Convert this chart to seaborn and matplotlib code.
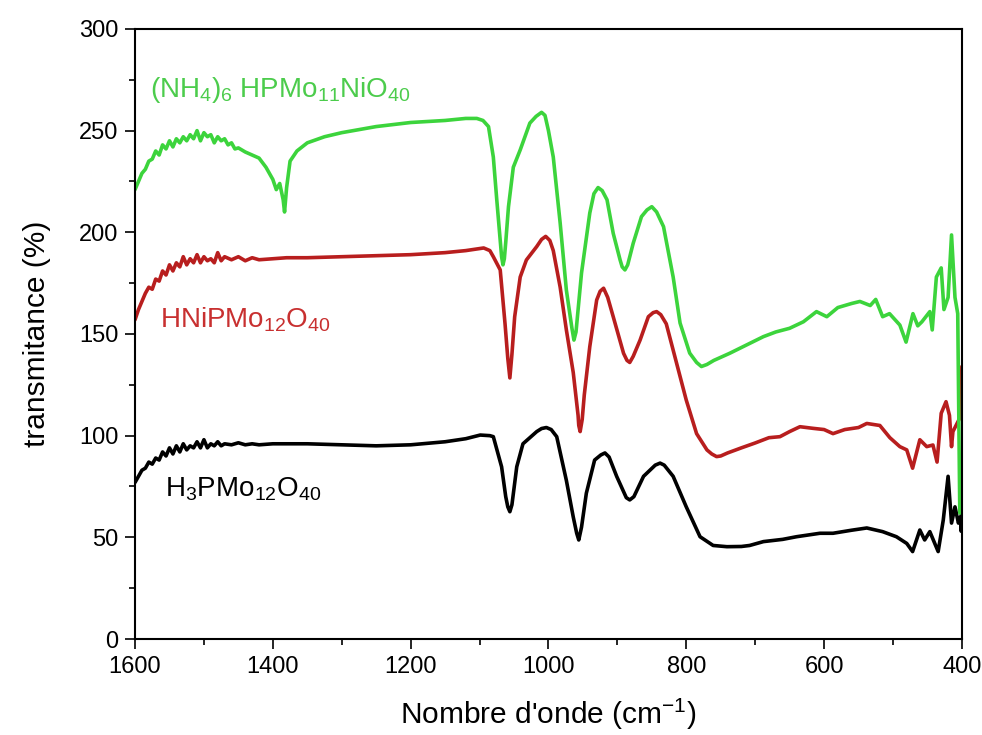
import pandas as pd
import matplotlib.pyplot as plt
import seaborn as sns
from matplotlib.ticker import MultipleLocator

# wavenumber (cm-1) / transmittance (%)
wn_green = [1600, 1595, 1590, 1585, 1580, 1575, 1570, 1565, 1560, 1555, 1550, 1545, 1540, 1535,
            1530, 1525, 1520, 1515, 1510, 1505, 1500, 1495, 1490, 1485, 1480, 1475, 1470, 1465,
            1460, 1455, 1450, 1440, 1430, 1420, 1410, 1400, 1395, 1390, 1385, 1383, 1380, 1375,
            1365, 1350, 1325, 1300, 1250, 1200, 1150, 1120, 1104, 1095, 1087, 1080, 1075, 1070,
            1068, 1066, 1064, 1062, 1058, 1051, 1041, 1027, 1018, 1010, 1005, 1000, 993, 983, 974,
            966, 963, 960, 952, 940, 934, 928, 922, 915, 906, 896, 893, 889, 885, 877, 865, 857,
            850, 843, 833, 819, 809, 795, 785, 778, 770, 760, 737, 710, 688, 670,
            650, 630, 611, 596, 580, 560, 548, 533, 525, 515, 505, 490, 481, 471, 464, 458, 446.5,
            443, 437, 430, 426, 420, 415, 410, 406, 403, 400]
tr_green = [221, 225, 229, 231, 235, 236, 240, 238, 243, 241, 245, 242, 246, 244,
            247, 245, 248, 246, 250, 245, 249, 247, 248, 244, 247, 245, 246, 243,
            244, 241, 241.5, 239.5, 238, 236.5, 232, 226, 221, 224, 216, 210, 222, 235,
            240, 244, 247, 249, 252, 254, 255, 256, 256, 255, 252, 237, 216, 196,
            188, 184, 187, 195, 212.6, 232, 240.5, 253.7, 257, 259, 257.5, 250, 237, 204.6, 171.6,
            153, 147, 151, 180, 209.5, 219, 222, 220.5, 216, 199.5, 186.4, 183, 181.5, 184, 194.6, 207.7, 211,
            212.6, 210, 202.8, 178, 155.4, 140.6, 136, 134, 135, 137, 140.5, 145, 148.7, 151,
            152.8, 156, 161, 158.5, 163, 165, 166, 164, 167, 158.5, 160, 154.4, 146, 160, 154, 156, 161,
            152, 178, 182.5, 162, 168, 198.7, 168, 160, 62, 62]

wn_red = [1600, 1595, 1590, 1585, 1580, 1575, 1570, 1565, 1560, 1555, 1550, 1545, 1540, 1535,
          1530, 1525, 1520, 1515, 1510, 1505, 1500, 1495, 1490, 1485, 1480, 1475, 1470, 1460,
          1450, 1440, 1430, 1420, 1400, 1380, 1350, 1300, 1250, 1200, 1150, 1120, 1100, 1094,
          1085, 1080, 1070, 1063, 1059, 1056, 1053, 1049, 1041, 1032, 1017, 1010, 1004, 998, 993,
          983, 974, 964, 957, 956, 954, 951, 948, 940, 930, 925, 920, 914, 906, 891, 886, 882, 877,
          867, 855, 848, 843, 837, 829, 814, 800, 785, 770, 763, 756, 750,
          740, 720, 700, 680, 664, 650, 635, 616, 600, 587, 570, 550, 538, 519, 504.5, 490, 480,
          471.5, 461, 451, 442, 436, 430, 423, 418, 415, 413, 410, 404, 401, 400]
tr_red = [157, 162, 166, 170, 173, 172, 177, 176, 181, 179, 184, 181, 185, 183,
          188, 184, 187, 185, 189, 185, 188, 186, 187, 185, 190, 186, 188, 186.5,
          188, 186, 187.5, 186.5, 187, 187.5, 187.5, 188, 188.5, 189, 190, 191, 192, 192.3,
          191, 188, 181.5, 155, 138, 128.4, 140, 158.5, 178, 186.4, 193, 196.5, 198, 196, 191,
          173, 152, 131, 110, 105, 102, 108, 120, 143.8, 166.7, 171, 172.5, 168, 158.5, 140.5, 137, 136, 139,
          147, 158.5, 160.5, 161, 159.5, 155, 135.6, 117.5, 101, 93, 91, 89.7, 90,
          91.5, 94, 96.4, 99, 99.5, 102, 104.4, 103.6, 103, 101, 103, 104, 106, 105, 99, 94.6, 93,
          84, 98, 94.6, 95.4, 87, 111, 116.7, 110, 94.6, 102, 104, 108, 109, 134]

wn_black = [1600, 1595, 1590, 1585, 1580, 1575, 1570, 1565, 1560, 1555, 1550, 1545, 1540, 1535,
            1530, 1525, 1520, 1515, 1510, 1505, 1500, 1495, 1490, 1485, 1480, 1475, 1470, 1460,
            1450, 1440, 1430, 1420, 1400, 1350, 1300, 1250, 1200, 1150, 1120, 1099, 1085, 1080,
            1068, 1062, 1059, 1056, 1053, 1050, 1046, 1037, 1017, 1010, 1003, 996, 988, 974, 964,
            959, 956, 952, 945, 933, 924, 918, 912, 901, 887, 882, 876, 862, 845, 838, 832, 819,
            800, 780, 761, 741, 720, 708, 688, 660, 640, 606, 587,
            560, 538, 515, 495, 480, 471.5, 461, 454, 446.5, 434.4, 427, 420, 415, 410, 405, 402,
            401, 400]
tr_black = [77, 80, 83, 84, 87, 86, 89, 88, 92, 90, 94, 91, 95, 92,
            96, 93, 95, 94, 97, 94, 98, 94, 96, 95, 97, 95, 96, 95.5,
            96.5, 95.5, 96, 95.5, 96, 96, 95.5, 95, 95.5, 97, 98.5, 100.3, 100, 99.5,
            84.7, 70, 65, 62.6, 66, 74, 84.7, 96, 102, 103.5, 104, 103, 99.5, 78, 60,
            52, 48.7, 55, 71.7, 88, 90.5, 91.5, 89.5, 80, 69.5, 68.4, 70, 80, 85.5, 86.5, 85.5, 80,
            65, 50.3, 46, 45.4, 45.5, 46, 47.9, 49, 50.3, 52, 52,
            53.5, 54.6, 52.8, 50.3, 47, 43, 53.6, 48.7, 52.8, 43, 58.5, 80, 57, 65, 57, 60,
            53, 77]

sns.set_style('white')
plt.rcParams['font.family'] = ['Liberation Sans', 'DejaVu Sans']
plt.rcParams['mathtext.fontset'] = 'custom'
plt.rcParams['mathtext.rm'] = 'Liberation Sans'
plt.rcParams['mathtext.it'] = 'Liberation Sans:italic'
plt.rcParams['mathtext.bf'] = 'Liberation Sans:bold'
for key in ['text.color', 'axes.labelcolor', 'xtick.color', 'ytick.color']:
    plt.rcParams[key] = 'black'

fig = plt.figure(figsize=(9.82, 7.35), dpi=100)
ax = fig.add_axes([0.1375, 0.1306, 0.842, 0.83])

curves = [
    (wn_black, tr_black, 'black'),
    (wn_red, tr_red, '#b81e1e'),
    (wn_green, tr_green, '#3cd43c'),
]
for wn, tr, col in curves:
    df = pd.DataFrame({'wn': wn, 'tr': tr})
    sns.lineplot(data=df, x='wn', y='tr', ax=ax, color=col, lw=2.6,
                 sort=False, estimator=None)

ax.set_xlim(1600, 400)
ax.set_ylim(0, 300)
ax.xaxis.set_major_locator(MultipleLocator(200))
ax.xaxis.set_minor_locator(MultipleLocator(100))
ax.yaxis.set_major_locator(MultipleLocator(50))
ax.yaxis.set_minor_locator(MultipleLocator(25))
ax.tick_params(which='both', direction='out', bottom=True, left=True, top=False, right=False,
               width=1.2, color='black', labelcolor='black', labelsize=17, pad=5)
ax.tick_params(which='major', length=7)
ax.tick_params(which='minor', length=4)
for s in ax.spines.values():
    s.set_linewidth(1.5)
    s.set_color('black')

ax.set_xlabel("Nombre d'onde (cm$^{-1}$)", fontsize=21.5, labelpad=14)
ax.set_ylabel('transmitance (%)', fontsize=21.5, labelpad=20)

ax.text(1578, 266.6, '(NH$_4$)$_6$ HPMo$_{11}$NiO$_{40}$', color='#4ccc4c', fontsize=20,
        ha='left', va='baseline')
ax.text(1564, 153, 'HNiPMo$_{12}$O$_{40}$', color='#c83030', fontsize=20,
        ha='left', va='baseline')
ax.text(1556, 70, 'H$_3$PMo$_{12}$O$_{40}$', color='black', fontsize=20,
        ha='left', va='baseline')

fig.savefig('out.png', dpi=100)
